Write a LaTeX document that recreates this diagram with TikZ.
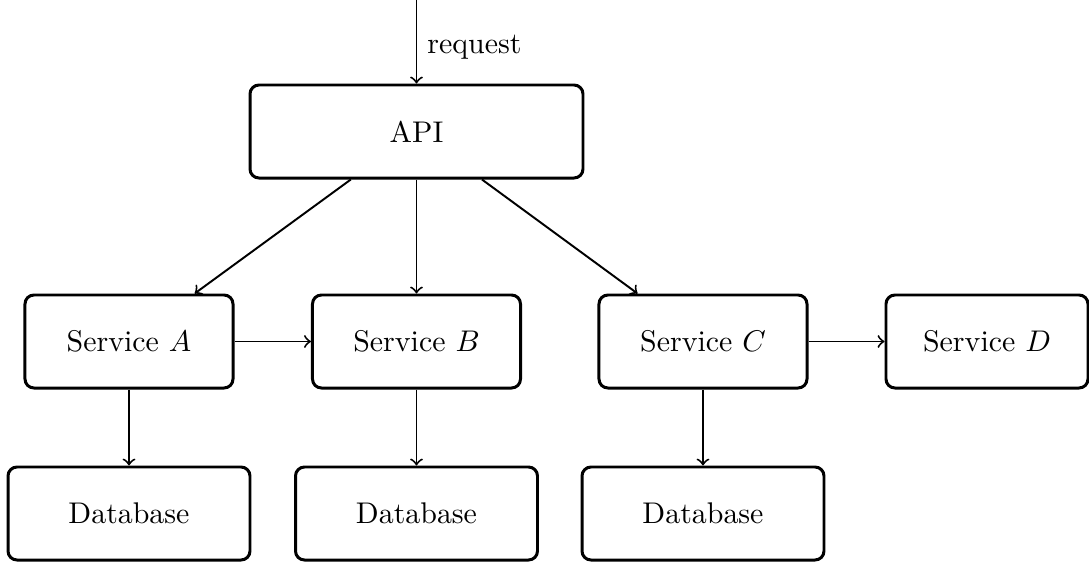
\documentclass[tikz,border=0pt]{standalone}
\begin{document}
\begin{tikzpicture}[x=0.3344pt,y=-0.3344pt,
  box/.style={draw,line width=1pt,rounded corners=3pt,minimum height=31.1pt,inner sep=3pt,align=center},
  svc/.style={box,minimum width=69.56pt},
  db/.style={box,minimum width=80.92pt},
  arr/.style={->,line width=0.65pt}]
\useasboundingbox (0,0) rectangle (1089,562);
\node[box,minimum width=111.35pt] (api) at (416.5,131.5) {API};
\node[svc] (sa) at (129,341.5) {Service $A$};
\node[svc] (sb) at (416.5,341.5) {Service $B$};
\node[svc] (sc) at (703,341.5) {Service $C$};
\node[box,minimum width=67.55pt] (sd) at (987,341.5) {Service $D$};
\node[db] (da) at (129,513.5) {Database};
\node[db] (db) at (416.5,513.5) {Database};
\node[db] (dc) at (703,513.5) {Database};
\coordinate (top) at (416.5,0);
\draw[arr] (top) -- (api) node[pos=0.56,right] {request};
\draw[arr] (api) -- (sa);
\draw[arr] (api) -- (sb);
\draw[arr] (api) -- (sc);
\draw[arr] (sa) -- (sb);
\draw[arr] (sc) -- (sd);
\draw[arr] (sa) -- (da);
\draw[arr] (sb) -- (db);
\draw[arr] (sc) -- (dc);
\end{tikzpicture}
\end{document}
